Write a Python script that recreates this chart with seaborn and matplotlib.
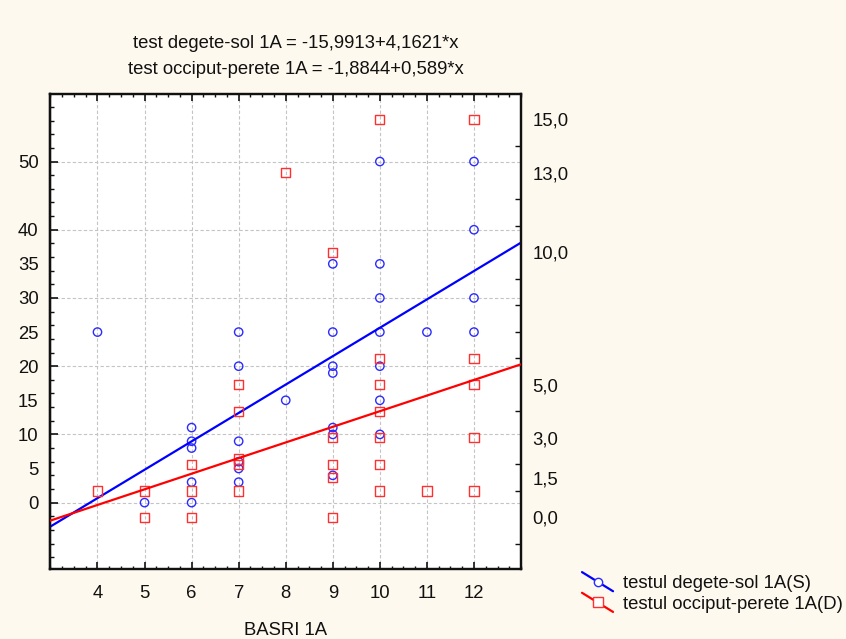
import numpy as np
import pandas as pd
import matplotlib
matplotlib.use("Agg")
import matplotlib.pyplot as plt
import seaborn as sns
from matplotlib.legend_handler import HandlerLine2D
from matplotlib.lines import Line2D

# ---------------- data ----------------
basri_s = [4, 5, 6, 6, 6, 6, 6, 7, 7, 7, 7, 7, 7, 8,
           9, 9, 9, 9, 9, 9, 9, 10, 10, 10, 10, 10, 10, 10, 11, 12, 12, 12, 12]
degete_sol = [25, 0, 11, 9, 8, 3, 0, 25, 20, 9, 6, 5, 3, 15,
              35, 25, 20, 19, 11, 10, 4, 50, 35, 30, 25, 20, 15, 10, 25, 50, 40, 30, 25]

basri_d = [4, 5, 5, 6, 6, 6, 7, 7, 7, 7, 7, 8,
           9, 9, 9, 9, 9, 10, 10, 10, 10, 10, 10, 10, 11, 12, 12, 12, 12, 12]
occiput = [1, 1, 0, 2, 1, 0, 5, 4, 2.2, 2, 1, 13,
           10, 3, 2, 1.5, 0, 15, 6, 5, 4, 3, 2, 1, 1, 15, 6, 5, 3, 1]

fit_s = (-15.9913, 4.1621)   # intercept, slope
fit_d = (-1.8844, 0.589)

title_lines = ["test degete-sol 1A = -15,9913+4,1621*x",
               "test occiput-perete 1A = -1,8844+0,589*x"]
x_ticks = [4, 5, 6, 7, 8, 9, 10, 11, 12]
left_labels = [0, 5, 10, 15, 20, 25, 30, 35, 40, 50]
left_grid = [0, 10, 20, 30, 40, 50]
right_labels = [0.0, 1.5, 3.0, 5.0, 10.0, 13.0, 15.0]
xlabel = "BASRI 1A"
legend_labels = ["testul degete-sol 1A(S)", "testul occiput-perete 1A(D)"]

# ---------------- style ----------------
sns.set_theme(style="white")
plt.rcParams["font.family"] = ["Liberation Sans", "DejaVu Sans"]

BG = "#FEF9EE"
BLUE_L = "#0000FF"
RED_L = "#FF0000"
BLUE_M = "#2B2BFF"
RED_M = "#FF3030"
FS = 13.3
TXT = "#111111"

fig = plt.figure(figsize=(8.46, 6.39), dpi=100, facecolor=BG)
ax = fig.add_axes([0.0596, 0.1088, 0.5563, 0.7441])
ax.set_facecolor("white")
ax2 = ax.twinx()
ax2.patch.set_visible(False)

XL = (3, 13)
YL = (-9.8, 59.9)
YR = (-1.96, 15.96)

# grid
for gx in x_ticks:
    ax.axvline(gx, color="#c4c4c4", lw=0.8, ls=(0, (3, 2)), zorder=0)
for gy in left_grid:
    ax.axhline(gy, color="#c4c4c4", lw=0.8, ls=(0, (3, 2)), zorder=0)

# scatter
df_s = pd.DataFrame({"x": basri_s, "y": degete_sol})
df_d = pd.DataFrame({"x": basri_d, "y": occiput})
sns.scatterplot(data=df_s, x="x", y="y", ax=ax, marker="o", s=36,
                facecolor="none", edgecolor=BLUE_M, linewidth=1.0, zorder=3)
sns.scatterplot(data=df_d, x="x", y="y", ax=ax2, marker="s", s=44,
                facecolor="none", edgecolor=RED_M, linewidth=1.0, zorder=3)

# regression lines
xl = np.array(XL, dtype=float)
sns.lineplot(x=xl, y=fit_s[0] + fit_s[1] * xl, ax=ax, color=BLUE_L, lw=1.6, zorder=4)
sns.lineplot(x=xl, y=fit_d[0] + fit_d[1] * xl, ax=ax2, color=RED_L, lw=1.6, zorder=4)

ax.set_xlim(*XL)
ax.set_ylim(*YL)
ax2.set_ylim(*YR)

# spines
for a in (ax, ax2):
    for sp in a.spines.values():
        sp.set_color(TXT)
        sp.set_linewidth(1.6)

# x ticks
ax.set_xticks(x_ticks)
ax.set_xticklabels([str(v) for v in x_ticks])
ax.set_xticks(np.arange(3, 13.01, 0.25), minor=True)
ax.tick_params(axis="x", which="major", direction="in", length=5, width=1.2,
               top=True, bottom=True, labelsize=FS, pad=11, colors=TXT)
ax.tick_params(axis="x", which="minor", direction="in", length=2.5, width=1.0,
               top=True, bottom=True, colors=TXT)
ax.set_xlabel(xlabel, fontsize=FS, labelpad=14.5, color=TXT)
ax.set_ylabel("")
ax2.set_ylabel("")

# left y ticks
ax.set_yticks(left_labels)
ax.set_yticklabels([str(v) for v in left_labels])
ax.set_yticks(np.arange(-8, 60, 2), minor=True)
ax.tick_params(axis="y", which="major", length=0, labelsize=FS, pad=8.5,
               left=True, right=False, colors=TXT)
ax.tick_params(axis="y", which="minor", direction="in", length=3, width=1.0,
               left=True, right=False, colors=TXT)
sec = ax.secondary_yaxis("left")
sec.set_yticks(left_grid)
sec.tick_params(axis="y", direction="in", length=5.5, width=1.2, labelleft=False,
                colors=TXT)
sec.spines["left"].set_linewidth(1.6)

# right y ticks
ax2.set_yticks(right_labels)
ax2.set_yticklabels([f"{v:.1f}".replace(".", ",") for v in right_labels])
ax2.set_yticks(np.arange(-1, 16, 1), minor=True)
ax2.tick_params(axis="y", which="major", length=0, labelsize=FS, pad=8,
                right=True, left=False, colors=TXT)
ax2.tick_params(axis="y", which="minor", direction="in", length=4, width=1.0,
                right=True, left=False, colors=TXT)

# titles
fig.text(296 / 846, 1 - 43 / 639, title_lines[0], ha="center", va="center",
         fontsize=FS, color=TXT)
fig.text(296 / 846, 1 - 70 / 639, title_lines[1], ha="center", va="center",
         fontsize=FS, color=TXT)


# legend with diagonal handles
class DiagHandler(HandlerLine2D):
    def create_artists(self, legend, orig_handle, xdescent, ydescent,
                       width, height, fontsize, trans):
        x0, x1 = -xdescent, -xdescent + width
        y0, y1 = -ydescent + height * 1.23, -ydescent - height * 0.25
        ln = Line2D([x0, x1], [y0, y1], color=orig_handle.get_color(),
                    lw=orig_handle.get_linewidth())
        mk = Line2D([(x0 + x1) / 2], [(y0 + y1) / 2], ls="none",
                    marker=orig_handle.get_marker(),
                    markersize=orig_handle.get_markersize(),
                    markerfacecolor="white",
                    markeredgecolor=orig_handle.get_markeredgecolor(),
                    markeredgewidth=orig_handle.get_markeredgewidth())
        ln.set_transform(trans)
        mk.set_transform(trans)
        return [ln, mk]


h1 = Line2D([], [], color=BLUE_L, lw=1.6, marker="o", markersize=6,
            markeredgecolor=BLUE_M, markeredgewidth=1.0)
h2 = Line2D([], [], color=RED_L, lw=1.6, marker="s", markersize=6.5,
            markeredgecolor=RED_M, markeredgewidth=1.0)
fig.legend([h1, h2], legend_labels, loc="upper left",
           bbox_to_anchor=(582 / 846, 1 - 575 / 639), frameon=False,
           fontsize=FS, handlelength=1.68, handletextpad=0.55,
           labelspacing=0.2, borderpad=0, borderaxespad=0,
           handler_map={Line2D: DiagHandler()}, labelcolor=TXT)

fig.savefig("out.png", dpi=100, facecolor=BG)
